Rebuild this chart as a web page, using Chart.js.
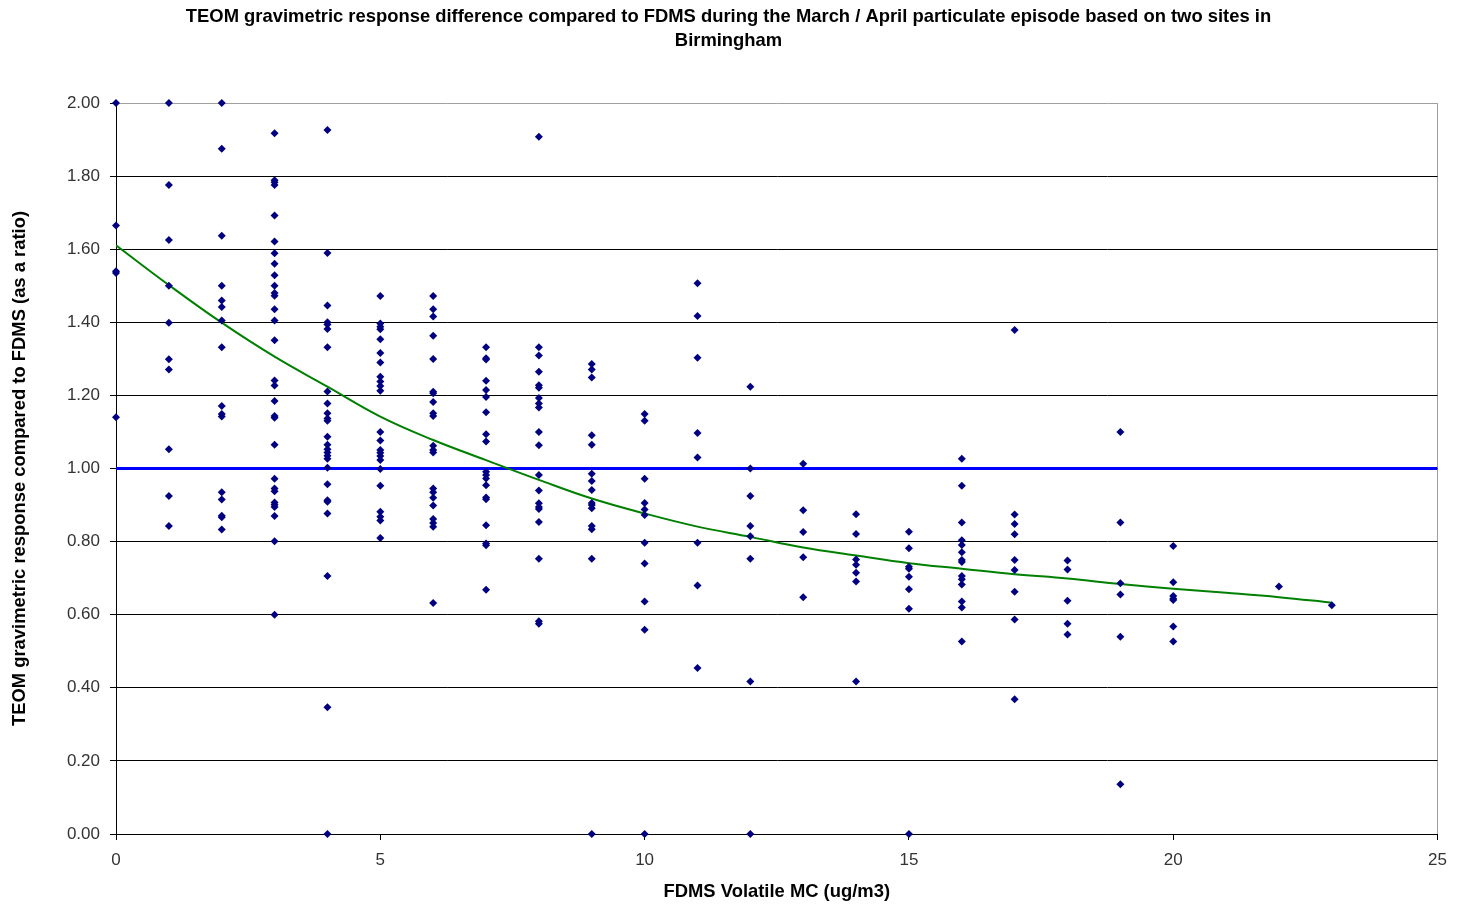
<!DOCTYPE html>
<html>
<head>
<meta charset="utf-8">
<script src="https://cdn.jsdelivr.net/npm/chart.js@4.4.1/dist/chart.umd.min.js"></script>
<style>
  html, body { margin: 0; padding: 0; background: #ffffff; }
  #wrap { width: 1457px; height: 907px; }
</style>
</head>
<body>
<div id="wrap"><canvas id="c" width="1457" height="907"></canvas></div>
<script>
// FDMS volatile MC (ug/m3) values on the x axis
const fdmsVolatile = [0, 1, 2, 3, 4, 5, 6, 7, 8, 9, 10, 11, 12, 13, 14, 15, 16, 17, 18, 19, 20, 22, 23];
// TEOM / FDMS ratios observed at each FDMS volatile value (same order as fdmsVolatile)
const teomRatio = [
  [2.00, 1.665, 1.54, 1.535, 1.14],
  [2.00, 1.776, 1.625, 1.50, 1.399, 1.299, 1.271, 1.053, 0.925, 0.843],
  [2.00, 1.875, 1.637, 1.50, 1.460, 1.442, 1.405, 1.332, 1.171, 1.149, 1.142, 0.935, 0.915, 0.871, 0.867, 0.833],
  [1.917, 1.789, 1.783, 1.776, 1.692, 1.621, 1.589, 1.560, 1.529, 1.500, 1.480, 1.473, 1.436, 1.405, 1.351, 1.241, 1.227, 1.185, 1.144, 1.139, 1.065, 0.972, 0.945, 0.938, 0.907, 0.901, 0.895, 0.870, 0.801, 0.600],
  [1.926, 1.590, 1.446, 1.400, 1.394, 1.382, 1.332, 1.211, 1.178, 1.151, 1.137, 1.131, 1.087, 1.065, 1.053, 1.044, 1.035, 1.027, 1.002, 0.957, 0.913, 0.909, 0.877, 0.706, 0.347, 0.0],
  [1.472, 1.397, 1.388, 1.381, 1.354, 1.316, 1.290, 1.251, 1.238, 1.226, 1.213, 1.100, 1.077, 1.051, 1.043, 1.034, 1.023, 0.999, 0.953, 0.882, 0.868, 0.858, 0.810],
  [1.472, 1.436, 1.416, 1.363, 1.300, 1.210, 1.206, 1.182, 1.151, 1.144, 1.062, 1.051, 1.044, 0.945, 0.935, 0.920, 0.899, 0.862, 0.851, 0.841, 0.632],
  [1.332, 1.302, 1.298, 1.240, 1.215, 1.196, 1.154, 1.094, 1.074, 0.991, 0.982, 0.973, 0.954, 0.921, 0.916, 0.845, 0.795, 0.790, 0.668],
  [1.908, 1.332, 1.309, 1.265, 1.228, 1.221, 1.193, 1.178, 1.167, 1.100, 1.064, 0.982, 0.940, 0.905, 0.895, 0.889, 0.854, 0.753, 0.582, 0.575],
  [1.286, 1.271, 1.249, 1.091, 1.065, 0.986, 0.966, 0.941, 0.906, 0.900, 0.891, 0.843, 0.834, 0.753, 0.0],
  [1.149, 1.131, 0.972, 0.906, 0.888, 0.873, 0.797, 0.740, 0.636, 0.559, 0.0],
  [1.507, 1.417, 1.303, 1.097, 1.030, 0.797, 0.680, 0.454],
  [1.224, 1.0, 0.925, 0.843, 0.815, 0.753, 0.417, 0.0],
  [1.013, 0.886, 0.826, 0.757, 0.648],
  [0.875, 0.821, 0.751, 0.737, 0.715, 0.691, 0.417],
  [0.827, 0.782, 0.731, 0.726, 0.704, 0.670, 0.616, 0.0],
  [1.027, 0.953, 0.852, 0.804, 0.791, 0.771, 0.750, 0.744, 0.706, 0.697, 0.683, 0.636, 0.620, 0.527],
  [1.379, 0.874, 0.848, 0.820, 0.750, 0.722, 0.663, 0.587, 0.369],
  [0.748, 0.724, 0.638, 0.575, 0.546],
  [1.100, 0.852, 0.686, 0.655, 0.540, 0.136],
  [0.788, 0.689, 0.651, 0.644, 0.640, 0.568, 0.527],
  [0.677],
  [0.626]
];
// Trend line
const trendX = [0, 1, 2, 3, 4, 5, 6, 7, 8, 9, 10, 11, 12, 13, 14, 15, 16, 17, 18, 19, 20, 21, 22, 23];
const trendY = [1.611, 1.502, 1.399, 1.306, 1.224, 1.142, 1.078, 1.023, 0.969, 0.918, 0.877, 0.841, 0.813, 0.784, 0.762, 0.741, 0.726, 0.711, 0.699, 0.684, 0.671, 0.660, 0.648, 0.633];
// Reference line (ratio = 1)
const refX = [0, 25];
const refY = [1, 1];

const titleLines = ['TEOM gravimetric response difference compared to FDMS during the March / April particulate episode based on two sites in', 'Birmingham'];
const xTitle = 'FDMS Volatile MC (ug/m3)';
const yTitle = 'TEOM gravimetric response compared to FDMS (as a ratio)';

const scatterPts = [];
fdmsVolatile.forEach((x, i) => teomRatio[i].forEach(y => scatterPts.push({x, y})));
const trendPts = trendX.map((x, i) => ({x, y: trendY[i]}));
const refPts = refX.map((x, i) => ({x, y: refY[i]}));

const FONT = "'Liberation Sans', Arial, sans-serif";

new Chart(document.getElementById('c'), {
  type: 'scatter',
  data: {
    datasets: [
      {
        data: scatterPts,
        pointStyle: 'rectRot',
        pointRadius: 4,
        pointBorderWidth: 0,
        backgroundColor: '#000080',
        borderColor: '#000080',
        clip: false,
        order: 0
      },
      {
        type: 'line',
        data: trendPts,
        borderColor: '#008000',
        borderWidth: 2,
        pointRadius: 0,
        tension: 0.4,
        fill: false,
        order: 1
      },
      {
        type: 'line',
        data: refPts,
        borderColor: '#0000FF',
        borderWidth: 3,
        pointRadius: 0,
        fill: false,
        order: 2
      }
    ]
  },
  options: {
    responsive: false,
    animation: false,
    events: [],
    layout: { padding: { left: 18, right: 18, top: 0, bottom: 0 } },
    plugins: {
      legend: { display: false },
      tooltip: { enabled: false },
      title: {
        display: true,
        text: titleLines,
        color: '#000',
        font: { family: FONT, size: 18.4, weight: 'bold', lineHeight: 1.3 },
        padding: { top: 5, bottom: 50.2 }
      }
    },
    scales: {
      x: {
        type: 'linear',
        min: 0, max: 25,
        afterFit: s => { s.height = 73; },
        ticks: { stepSize: 5, color: '#333', padding: 10, font: { family: FONT, size: 17 } },
        grid: {
          drawOnChartArea: true,
          color: c => (c.tick && c.tick.value === 25) ? '#a0a0a0' : 'rgba(0,0,0,0)',
          tickColor: '#000',
          tickLength: 6,
          lineWidth: 1
        },
        border: { display: true, color: '#000', width: 1 },
        title: { display: true, text: xTitle, color: '#000', font: { family: FONT, size: 18.4, weight: 'bold' }, padding: { top: 0, bottom: 4 } }
      },
      y: {
        type: 'linear',
        min: 0, max: 2,
        afterFit: s => { s.width = 98; },
        ticks: { stepSize: 0.2, color: '#333', padding: 10, font: { family: FONT, size: 17 }, callback: v => Number(v).toFixed(2) },
        grid: {
          color: c => (c.tick && Math.abs(c.tick.value - 2) < 1e-6) ? '#a0a0a0' : '#000',
          tickColor: '#000',
          tickLength: 6,
          lineWidth: 1
        },
        border: { display: true, color: '#000', width: 1 },
        title: { display: true, text: yTitle, color: '#000', font: { family: FONT, size: 18.4, weight: 'bold' }, padding: { top: -9, bottom: 0 } }
      }
    }
  }
});
</script>
</body>
</html>
